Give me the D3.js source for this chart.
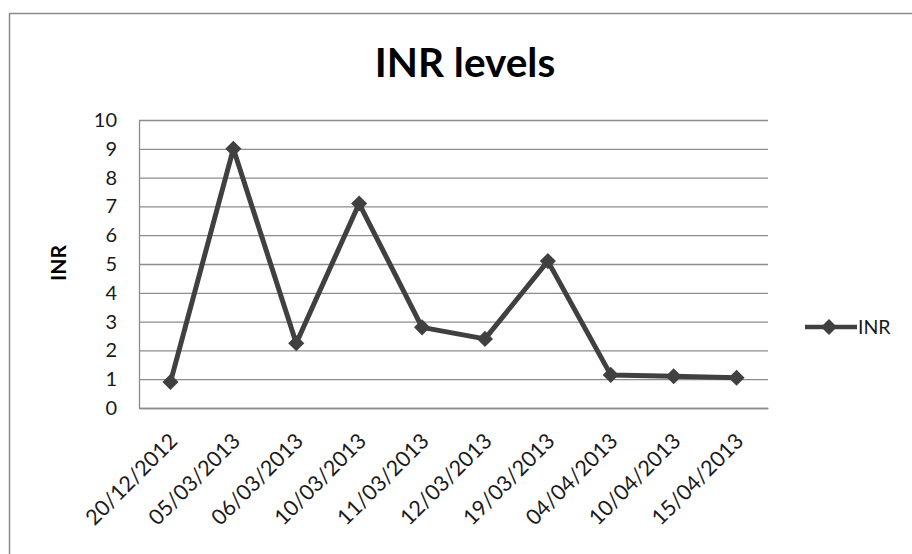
<!DOCTYPE html>
<html>
<head>
<meta charset="utf-8">
<script src="https://cdn.jsdelivr.net/npm/d3@7"></script>
<style>
  html, body { margin: 0; padding: 0; background: #fff; }
  svg { display: block; }
  text { font-family: Lato, "Open Sans", "Liberation Sans", sans-serif; }
</style>
</head>
<body>
<svg id="chart" width="912" height="554"></svg>
<script>
const dates = ["20/12/2012","05/03/2013","06/03/2013","10/03/2013","11/03/2013","12/03/2013","19/03/2013","04/04/2013","10/04/2013","15/04/2013"];
const inrValues = [0.9, 9.0, 2.25, 7.1, 2.8, 2.4, 5.1, 1.15, 1.1, 1.05];
const yTicks = [0,1,2,3,4,5,6,7,8,9,10];
const seriesName = "INR";
const titleText = "INR levels";
const yTitle = "INR";

const W = 912, H = 554;
const m = { left: 139, top: 120, right: 768, bottom: 408 };
const svg = d3.select("#chart");

// outer chart border
svg.append("rect")
  .attr("x", 9.5).attr("y", 13.5)
  .attr("width", W + 20).attr("height", H + 20)
  .attr("fill", "#fff").attr("stroke", "#8c8c8c").attr("stroke-width", 1.5);

const x = d3.scaleBand().domain(dates).range([m.left, m.right]).paddingInner(0).paddingOuter(0);
const y = d3.scaleLinear().domain([0, 10]).range([m.bottom, m.top]);

// gridlines
svg.append("g")
  .attr("transform", `translate(${m.left},0)`)
  .call(d3.axisLeft(y).tickValues(yTicks).tickSize(-(m.right - m.left)).tickFormat(""))
  .call(g => g.select(".domain").remove())
  .call(g => g.selectAll(".tick line").attr("stroke", "#8c8c8c").attr("stroke-width", 1.3));

// y axis line + labels
svg.append("g")
  .attr("transform", `translate(${m.left},0)`)
  .call(d3.axisLeft(y).tickValues(yTicks).tickSize(0).tickPadding(22))
  .call(g => g.select(".domain").attr("stroke", "#8c8c8c").attr("stroke-width", 1.3))
  .call(g => g.selectAll(".tick text")
    .attr("fill", "#1a1a1a").attr("font-size", 20).style("font-family", "Lato, sans-serif"));

// x axis
const xa = svg.append("g")
  .attr("transform", `translate(0,${m.bottom})`)
  .call(d3.axisBottom(x).tickSize(0).tickPadding(0))
  .call(g => g.select(".domain").attr("stroke", "#8c8c8c").attr("stroke-width", 1.3));
xa.selectAll(".tick text")
  .attr("fill", "#1a1a1a").attr("font-size", 21.5).style("font-family", "Lato, sans-serif")
  .attr("text-anchor", "end")
  .attr("dy", "0.35em").attr("y", 0)
  .attr("transform", "translate(3,29) rotate(-45)");

// line
const cx = d => x(d) + x.bandwidth() / 2;
const line = d3.line().x((d, i) => cx(dates[i])).y(d => y(d));
svg.append("path")
  .datum(inrValues)
  .attr("d", line)
  .attr("fill", "none")
  .attr("stroke", "#404040").attr("stroke-width", 5)
  .attr("stroke-linejoin", "round");

// markers
const diamond = d3.symbol().type(d3.symbolDiamond2).size(165);
svg.append("g").selectAll("path")
  .data(inrValues)
  .join("path")
  .attr("d", diamond)
  .attr("transform", (d, i) => `translate(${cx(dates[i])},${y(d)})`)
  .attr("fill", "#404040");

// title
svg.append("text")
  .attr("x", 465).attr("y", 77)
  .attr("text-anchor", "middle")
  .attr("font-size", 40.5).attr("font-weight", "bold").attr("fill", "#000")
  .text(titleText);

// y title
svg.append("text")
  .attr("transform", `translate(66,263) rotate(-90)`)
  .attr("text-anchor", "middle")
  .attr("font-size", 21).attr("font-weight", "bold").attr("fill", "#000")
  .text(yTitle);

// legend
const lg = svg.append("g").attr("transform", "translate(805,327)");
lg.append("line").attr("x1", 0).attr("x2", 52).attr("y1", 0).attr("y2", 0)
  .attr("stroke", "#404040").attr("stroke-width", 4.5);
lg.append("path").attr("d", diamond).attr("transform", "translate(24,0)").attr("fill", "#404040");
lg.append("text").attr("x", 53).attr("y", 0).attr("dy", "0.36em")
  .attr("font-size", 19.5).attr("fill", "#1a1a1a").text(seriesName);
</script>
</body>
</html>
